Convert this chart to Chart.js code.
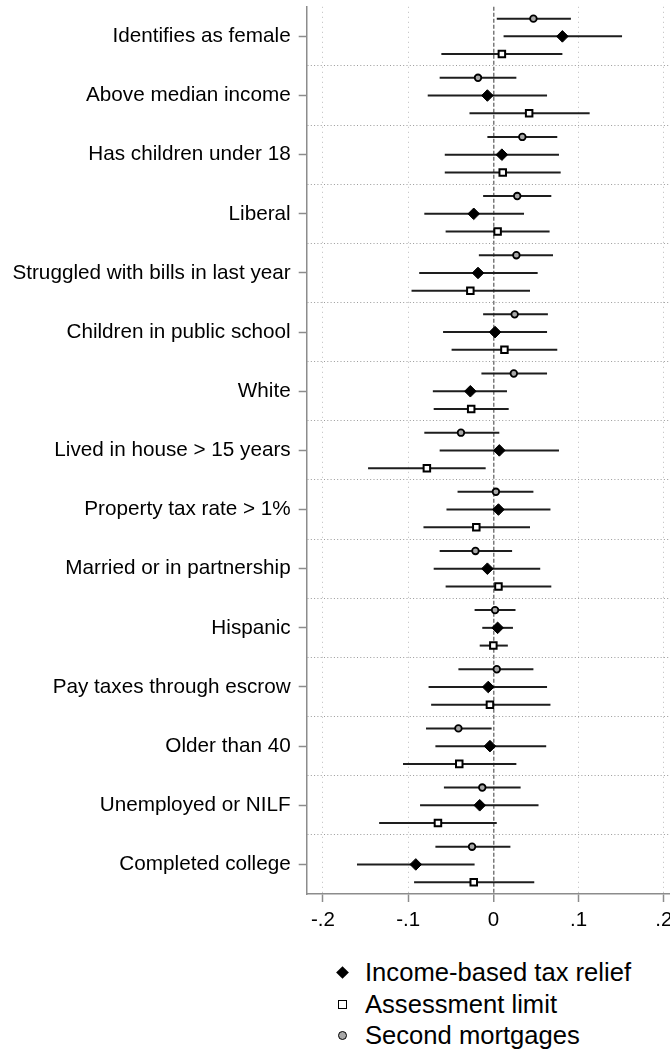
<!DOCTYPE html>
<html>
<head>
<meta charset="utf-8">
<script src="https://cdn.jsdelivr.net/npm/chart.js@4.4.1/dist/chart.umd.min.js"></script>
<style>
    html, body { margin: 0; padding: 0; background: #fff; overflow: hidden; }
    #wrap { position: relative; width: 670px; height: 1059px; overflow: hidden; }
    #coefChart { position: absolute; left: 0; top: 0; }
    #legend {
        position: absolute; left: 330px; top: 957px;
        font-family: 'Liberation Sans', Arial, Helvetica, sans-serif;
        font-size: 25.6px; color: #000;
    }
    .item { height: 31.5px; line-height: 31.5px; position: relative; padding-left: 35px; white-space: nowrap; }
    .mk { position: absolute; box-sizing: border-box; }
    .mk.diamond { width: 9px; height: 9px; left: 7.5px; top: 11.25px; background: #000; transform: rotate(45deg); }
    .mk.square { width: 9px; height: 9px; left: 7.5px; top: 11.25px; background: #fff; border: 1.8px solid #000; }
    .mk.circle { width: 9px; height: 9px; left: 7.5px; top: 11.25px; background: #a8a8a8; border: 1.8px solid #000; border-radius: 50%; }
</style>
</head>
<body>
<div id="wrap">
    <canvas id="coefChart" width="690" height="934"></canvas>
    <div id="legend"></div>
</div>
<script>
// Covariate balance: coefficients and 95% intervals by treatment

const categories = [
    'Identifies as female',
    'Above median income',
    'Has children under 18',
    'Liberal',
    'Struggled with bills in last year',
    'Children in public school',
    'White',
    'Lived in house > 15 years',
    'Property tax rate > 1%',
    'Married or in partnership',
    'Hispanic',
    'Pay taxes through escrow',
    'Older than 40',
    'Unemployed or NILF',
    'Completed college'
];

const xTickValues = [-0.2, -0.1, 0, 0.1, 0.2];
const xTickLabels = ['-.2', '-.1', '0', '.1', '.2'];

// Income-based tax relief
const incomeCoef = [0.081, -0.007, 0.010, -0.023, -0.018, 0.002, -0.027, 0.007, 0.006, -0.007, 0.005, -0.006, -0.004, -0.016, -0.091];
const incomeLo = [0.012, -0.077, -0.057, -0.081, -0.087, -0.059, -0.071, -0.063, -0.055, -0.070, -0.013, -0.076, -0.068, -0.086, -0.160];
const incomeHi = [0.151, 0.063, 0.077, 0.036, 0.052, 0.063, 0.016, 0.077, 0.067, 0.055, 0.023, 0.063, 0.062, 0.053, -0.022];

// Assessment limit
const assessCoef = [0.010, 0.042, 0.011, 0.005, -0.027, 0.013, -0.026, -0.078, -0.020, 0.006, 0.000, -0.004, -0.040, -0.065, -0.023];
const assessLo = [-0.061, -0.028, -0.057, -0.056, -0.096, -0.049, -0.070, -0.147, -0.082, -0.056, -0.016, -0.073, -0.106, -0.134, -0.093];
const assessHi = [0.081, 0.113, 0.079, 0.066, 0.043, 0.075, 0.018, -0.009, 0.043, 0.068, 0.017, 0.067, 0.027, 0.004, 0.048];

// Second mortgages
const mortCoef = [0.047, -0.018, 0.034, 0.028, 0.027, 0.025, 0.024, -0.038, 0.003, -0.021, 0.002, 0.004, -0.041, -0.013, -0.025];
const mortLo = [0.004, -0.063, -0.007, -0.012, -0.017, -0.012, -0.014, -0.081, -0.042, -0.063, -0.022, -0.041, -0.079, -0.058, -0.068];
const mortHi = [0.091, 0.027, 0.075, 0.068, 0.070, 0.064, 0.063, 0.007, 0.047, 0.022, 0.026, 0.047, -0.002, 0.032, 0.020];

const FONT = "'Liberation Sans', Arial, Helvetica, sans-serif";
Chart.defaults.font.family = FONT;
Chart.defaults.color = '#000';

function makeSeries(label, coef, lo, hi, offset, style) {
    return Object.assign({
        label: label,
        data: coef.map((v, i) => ({ x: v, y: i + 1 + offset })),
        errLo: lo,
        errHi: hi,
        offset: offset,
        showLine: false
    }, style);
}

const series = [
    makeSeries('Income-based tax relief', incomeCoef, incomeLo, incomeHi, 0, {
        pointStyle: 'rectRot', pointRadius: 5.8, backgroundColor: '#000', borderColor: '#000', borderWidth: 1
    }),
    makeSeries('Assessment limit', assessCoef, assessLo, assessHi, 0.3, {
        pointStyle: 'rect', pointRadius: 4.6, backgroundColor: '#fff', borderColor: '#000', borderWidth: 2
    }),
    makeSeries('Second mortgages', mortCoef, mortLo, mortHi, -0.3, {
        pointStyle: 'circle', pointRadius: 3.3, backgroundColor: '#a8a8a8', borderColor: '#000', borderWidth: 1.8
    })
];

// horizontal confidence-interval lines, drawn under the markers
const errorBars = {
    id: 'errorBars',
    beforeDatasetsDraw(chart) {
        const { ctx, scales: { x, y } } = chart;
        ctx.save();
        ctx.strokeStyle = '#1e1e1e';
        ctx.lineWidth = 2;
        chart.data.datasets.forEach(ds => {
            ds.errLo.forEach((lo, i) => {
                const py = y.getPixelForValue(i + 1 + ds.offset);
                ctx.beginPath();
                ctx.moveTo(x.getPixelForValue(lo), py);
                ctx.lineTo(x.getPixelForValue(ds.errHi[i]), py);
                ctx.stroke();
            });
        });
        ctx.restore();
    }
};

const isHalf = v => Math.abs(v % 1) > 0.01;

new Chart(document.getElementById('coefChart'), {
    type: 'scatter',
    data: { datasets: series },
    plugins: [errorBars],
    options: {
        responsive: false,
        animation: false,
        layout: { padding: { top: 6, right: 10, left: 0, bottom: 0 } },
        plugins: {
            legend: { display: false },
            tooltip: { enabled: false }
        },
        scales: {
            x: {
                type: 'linear',
                min: -0.219,
                max: 0.219,
                afterBuildTicks: scale => { scale.ticks = xTickValues.map(v => ({ value: v })); },
                afterFit: scale => {
                    scale.height = 40;
                    scale.paddingLeft = 0;
                    scale.paddingRight = 0;
                },
                ticks: {
                    font: { size: 20.5 },
                    padding: 6,
                    callback: v => xTickLabels[xTickValues.findIndex(t => Math.abs(t - v) < 1e-9)]
                },
                grid: {
                    color: ctx => (ctx.tick && ctx.tick.value === 0) ? '#7a7a7a' : '#bdbdbd',
                    lineWidth: ctx => (ctx.tick && ctx.tick.value === 0) ? 1.5 : 1,
                    tickColor: '#8c8c8c',
                    tickLength: 8,
                    tickWidth: 1.5
                },
                border: {
                    display: true,
                    color: '#8c8c8c',
                    width: 1.5,
                    dash: ctx => (ctx.tick && ctx.tick.value === 0) ? [4, 2] : [1, 4]
                }
            },
            y: {
                type: 'linear',
                min: 0.5,
                max: 15.5,
                reverse: true,
                afterBuildTicks: scale => {
                    const t = [];
                    for (let v = 0.5; v <= 15.5; v += 0.5) t.push({ value: v });
                    scale.ticks = t;
                },
                afterFit: scale => {
                    scale.width = 306.7;
                    scale.paddingTop = 0;
                    scale.paddingBottom = 0;
                },
                ticks: {
                    autoSkip: false,
                    font: { size: 20.7 },
                    padding: 8,
                    callback: v => isHalf(v) ? '' : categories[Math.round(v) - 1]
                },
                grid: {
                    color: ctx => {
                        if (!ctx.tick) return 'rgba(0,0,0,0)';
                        const v = ctx.tick.value;
                        return (isHalf(v) && v > 0.6 && v < 15.4) ? '#9a9a9a' : 'rgba(0,0,0,0)';
                    },
                    lineWidth: 1,
                    tickColor: ctx => (ctx.tick && !isHalf(ctx.tick.value)) ? '#8c8c8c' : 'rgba(0,0,0,0)',
                    tickLength: 8,
                    tickWidth: 1.5
                },
                border: {
                    display: true,
                    color: '#8c8c8c',
                    width: 1.5,
                    dash: [1, 2.3]
                }
            }
        }
    }
});

// legend list below the plot
const legendShapes = ['diamond', 'square', 'circle'];
const legendEl = document.getElementById('legend');
series.forEach((s, i) => {
    const row = document.createElement('div');
    row.className = 'item';
    row.innerHTML = '<span class="mk ' + legendShapes[i] + '"></span>' + s.label;
    legendEl.appendChild(row);
});
</script>
</body>
</html>
